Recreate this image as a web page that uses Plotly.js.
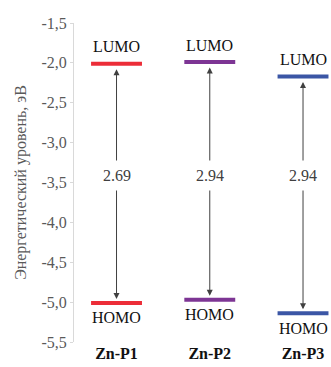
<!DOCTYPE html>
<html>
<head>
<meta charset="utf-8">
<script src="https://cdn.plot.ly/plotly-3.0.1.min.js"></script>
<style>html,body{margin:0;padding:0;background:#fff;}#chart{width:331px;height:367px;}</style>
</head>
<body>
<div id="chart"></div>
<script>
const categories = ['Zn-P1', 'Zn-P2', 'Zn-P3'];
const lumo = [-2.01, -1.99, -2.17];
const homo = [-5.01, -4.97, -5.14];
const gapLabels = ['2.69', '2.94', '2.94'];
const colors = ['#ec2d38', '#7d3594', '#3b56a5'];
const yTickVals = [-1.5, -2.0, -2.5, -3.0, -3.5, -4.0, -4.5, -5.0, -5.5];
const yTickText = ['-1,5', '-2,0', '-2,5', '-3,0', '-3,5', '-4,0', '-4,5', '-5,0', '-5,5'];
const yTitle = 'Энергетический уровень, эВ';

const serif = 'Liberation Serif';
const halfW = 0.273;
const labelY = -3.41;

const traces = [];
const annotations = [];
categories.forEach((c, i) => {
  [lumo[i], homo[i]].forEach(v => {
    traces.push({
      x: [i - halfW, i + halfW], y: [v, v], mode: 'lines', type: 'scatter',
      line: {color: colors[i], width: 4}, hoverinfo: 'skip', showlegend: false
    });
  });
  annotations.push({
    x: i, y: homo[i], ax: i, ay: lumo[i], axref: 'x', ayref: 'y', xref: 'x', yref: 'y',
    text: '', showarrow: true, arrowside: 'end+start', arrowhead: 2, arrowsize: 1.2,
    arrowwidth: 1, arrowcolor: '#404040', standoff: 4, startstandoff: 4
  });
  annotations.push({
    x: i, y: labelY, xref: 'x', yref: 'y', text: gapLabels[i], showarrow: false,
    bgcolor: '#ffffff', borderpad: 6, font: {family: serif, size: 16, color: '#404040'}
  });
  annotations.push({
    x: i, y: lumo[i], xref: 'x', yref: 'y', text: 'LUMO', showarrow: false, yshift: 17,
    font: {family: serif, size: 16, color: '#111111'}
  });
  annotations.push({
    x: i, y: homo[i], xref: 'x', yref: 'y', text: 'HOMO', showarrow: false, yshift: -15,
    font: {family: serif, size: 16, color: '#111111'}
  });
});

const layout = {
  width: 331, height: 367,
  margin: {l: 74, r: 0, t: 23, b: 25},
  paper_bgcolor: '#ffffff', plot_bgcolor: '#ffffff',
  showlegend: false,
  font: {family: serif},
  xaxis: {
    range: [-0.456, 2.30], tickvals: [0, 1, 2], ticktext: categories.map(c => '<b>' + c + '</b>'),
    showgrid: false, zeroline: false, showline: false, ticks: '',
    tickfont: {family: serif, size: 16, color: '#111111'}, fixedrange: true
  },
  yaxis: {
    range: [-5.5, -1.5], tickvals: yTickVals, ticktext: yTickText,
    showgrid: false, zeroline: false, showline: true, linecolor: '#d9d9d9', linewidth: 1,
    ticks: 'outside', ticklen: 3, tickcolor: '#d9d9d9',
    tickfont: {family: serif, size: 16, color: '#595959'},
    title: {text: yTitle, font: {family: serif, size: 16, color: '#595959'}, standoff: 10},
    automargin: false
  },
  annotations: annotations
};

Plotly.newPlot('chart', traces, layout, {displayModeBar: false, staticPlot: true});
</script>
</body>
</html>
